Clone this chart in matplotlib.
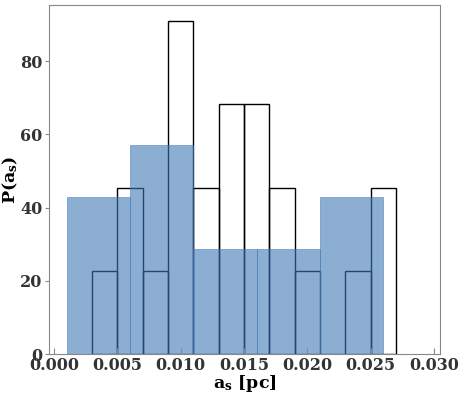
import matplotlib
matplotlib.use("Agg")
import matplotlib.pyplot as plt

# fine histogram (outline), density values
fine_edges = [0.003, 0.005, 0.007, 0.009, 0.011, 0.013, 0.015,
              0.017, 0.019, 0.021, 0.023, 0.025, 0.027]
fine_density = [22.7, 45.5, 22.7, 90.9, 45.5, 68.2, 68.2,
                45.5, 22.7, 0.0, 22.7, 45.5]

# coarse histogram (filled blue)
coarse_edges = [0.001, 0.006, 0.011, 0.016, 0.021, 0.026]
coarse_density = [42.9, 57.1, 28.6, 28.6, 42.9]

xticks = [0.000, 0.005, 0.010, 0.015, 0.020, 0.025, 0.030]
yticks = [0, 20, 40, 60, 80]

plt.rcParams["font.family"] = "DejaVu Serif"
plt.rcParams["font.weight"] = "bold"
plt.rcParams["mathtext.fontset"] = "dejavuserif"

fig = plt.figure(figsize=(4.64, 3.97), dpi=100)
ax = fig.add_axes([0.106, 0.108, 0.842, 0.880])

fw = [b - a for a, b in zip(fine_edges[:-1], fine_edges[1:])]
ax.bar(fine_edges[:-1], fine_density, width=fw, align="edge",
       facecolor="none", edgecolor="black", linewidth=1.0)

cw = [b - a for a, b in zip(coarse_edges[:-1], coarse_edges[1:])]
ax.bar(coarse_edges[:-1], coarse_density, width=cw, align="edge",
       color="#3f78b7", alpha=0.6, linewidth=0.6, edgecolor="#3f78b7")

ax.set_xlim(-0.00037, 0.03047)
ax.set_ylim(0, 95.4)
ax.set_xticks(xticks)
ax.set_xticklabels([f"{t:.3f}" for t in xticks])
ax.set_yticks(yticks)

for s in ax.spines.values():
    s.set_color("#888888")
ax.tick_params(axis="x", direction="in", length=4, color="#888888",
               labelsize=11.5, labelcolor="#333333", pad=2)
ax.tick_params(axis="y", direction="out", length=3, color="#888888",
               labelsize=11.5, labelcolor="#333333", pad=2)

ax.set_xlabel(r"$\mathbf{a_s}$ [pc]", fontsize=12.5, fontweight="bold", labelpad=-1)
ax.set_ylabel(r"P($\mathbf{a_s}$)", fontsize=12.5, fontweight="bold", labelpad=0)

fig.savefig("out.png", dpi=100)
